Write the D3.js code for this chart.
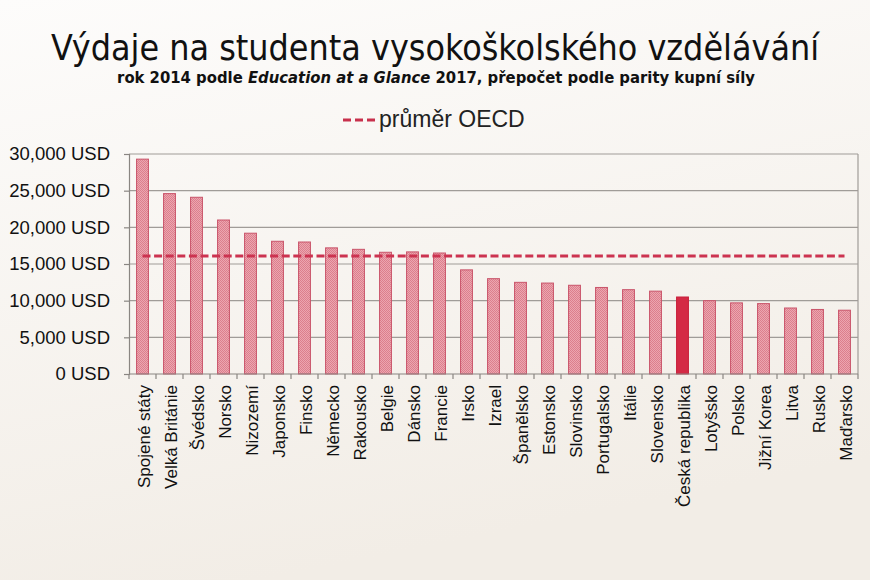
<!DOCTYPE html>
<html>
<head>
<meta charset="utf-8">
<script src="https://cdn.jsdelivr.net/npm/d3@7"></script>
<style>
  body { margin: 0; }
  svg { display: block; }
</style>
</head>
<body>
<div id="chart"></div>
<script>
// chart values
const countries = ['Spojené státy', 'Velká Británie', 'Švédsko', 'Norsko', 'Nizozemí', 'Japonsko',
  'Finsko', 'Německo', 'Rakousko', 'Belgie', 'Dánsko', 'Francie', 'Irsko', 'Izrael', 'Španělsko',
  'Estonsko', 'Slovinsko', 'Portugalsko', 'Itálie', 'Slovensko', 'Česká republika', 'Lotyšsko',
  'Polsko', 'Jižní Korea', 'Litva', 'Rusko', 'Maďarsko']
const spending = [29300, 24600, 24100, 21000, 19200, 18100, 18000, 17200, 17000, 16600, 16650, 16500,
  14200, 13000, 12500, 12400, 12100, 11800, 11500, 11300, 10500, 10000, 9700, 9600, 9000, 8800, 8700]
const oecdAverage = 16100
const highlight = 'Česká republika'
const yTicks = [0, 5000, 10000, 15000, 20000, 25000, 30000]

const width = 870,
  height = 580,
  plotLeft = 129,
  plotRight = 858,
  plotTop = 154,
  plotBottom = 374

const svg = d3.select('#chart')
  .append('svg')
  .attr('width', width)
  .attr('height', height)

const defs = svg.append('defs')

// page background
const bg = defs.append('linearGradient')
  .attr('id', 'bg')
  .attr('x1', 0).attr('y1', 0).attr('x2', 0.3).attr('y2', 1)
bg.append('stop').attr('offset', '0%').attr('stop-color', '#fdfcfb')
bg.append('stop').attr('offset', '100%').attr('stop-color', '#f2ede6')

// stippled bar fill
const pat = defs.append('pattern')
  .attr('id', 'dots')
  .attr('width', 2).attr('height', 2)
  .attr('patternUnits', 'userSpaceOnUse')
pat.append('rect').attr('width', 2).attr('height', 2).attr('fill', '#eca6b0')
pat.append('rect').attr('width', 1).attr('height', 1).attr('fill', '#dc7f8d')
pat.append('rect').attr('x', 1).attr('y', 1).attr('width', 1).attr('height', 1).attr('fill', '#dc7f8d')

svg.append('rect')
  .attr('width', width)
  .attr('height', height)
  .attr('fill', 'url(#bg)')

// titles
svg.append('text')
  .attr('x', 435)
  .attr('y', 60)
  .attr('text-anchor', 'middle')
  .style('font-family', '"DejaVu Sans Condensed", "DejaVu Sans", sans-serif')
  .style('font-size', '35.5px')
  .attr('fill', '#111')
  .text('Výdaje na studenta vysokoškolského vzdělávání')

const sub = svg.append('text')
  .attr('x', 436)
  .attr('y', 83)
  .attr('text-anchor', 'middle')
  .style('font-family', '"DejaVu Sans Condensed", "DejaVu Sans", sans-serif')
  .style('font-size', '16.5px')
  .style('font-weight', 'bold')
  .attr('fill', '#111')
sub.append('tspan').text('rok 2014 podle ')
sub.append('tspan').style('font-style', 'italic').text('Education at a Glance')
sub.append('tspan').text(' 2017, přepočet podle parity kupní síly')

// legend
svg.append('line')
  .attr('x1', 343).attr('x2', 376)
  .attr('y1', 120).attr('y2', 120)
  .attr('stroke', '#c8304c')
  .attr('stroke-width', 3)
  .attr('stroke-dasharray', '8,4')
svg.append('text')
  .attr('x', 379)
  .attr('y', 127)
  .style('font-family', '"Liberation Sans", Arial, sans-serif')
  .style('font-size', '23px')
  .attr('fill', '#222')
  .text('průměr OECD')

// scales
const x = d3.scaleBand()
  .domain(countries)
  .range([plotLeft, plotRight])
  .paddingInner(0.56)
  .paddingOuter(0.28)

const y = d3.scaleLinear()
  .domain([0, 30000])
  .range([plotBottom, plotTop])

// grid lines
svg.append('g')
  .selectAll('line')
  .data(yTicks.slice(1))
  .enter()
  .append('line')
  .attr('x1', plotLeft)
  .attr('x2', plotRight)
  .attr('y1', d => y(d))
  .attr('y2', d => y(d))
  .attr('stroke', '#a09c98')
  .attr('stroke-width', 1.2)

svg.append('line')
  .attr('x1', plotRight).attr('x2', plotRight)
  .attr('y1', plotTop).attr('y2', plotBottom)
  .attr('stroke', '#a09c98')
  .attr('stroke-width', 1.2)

// bars
svg.append('g')
  .selectAll('rect')
  .data(countries)
  .enter()
  .append('rect')
  .attr('x', d => x(d))
  .attr('y', (d, i) => y(spending[i]))
  .attr('width', x.bandwidth())
  .attr('height', (d, i) => plotBottom - y(spending[i]))
  .attr('fill', d => d === highlight ? '#d42a45' : 'url(#dots)')
  .attr('stroke', d => d === highlight ? '#c8203c' : '#c9546a')
  .attr('stroke-width', 1)

// OECD average
const step = x.step()
svg.append('line')
  .attr('x1', x(countries[0]) + x.bandwidth() / 2)
  .attr('x2', x(countries[countries.length - 1]) + x.bandwidth() / 2)
  .attr('y1', y(oecdAverage))
  .attr('y2', y(oecdAverage))
  .attr('stroke', '#cc3350')
  .attr('stroke-width', 3)
  .attr('stroke-dasharray', '8,3.6')

// y axis
const yAxis = svg.append('g')
  .attr('transform', `translate(${plotLeft},0)`)
  .call(d3.axisLeft(y).tickValues(yTicks).tickSize(5).tickPadding(14)
    .tickFormat(d => d3.format(',')(d) + ' USD'))
yAxis.select('.domain').attr('stroke', '#8a8682').attr('stroke-width', 1.2)
yAxis.selectAll('.tick line').attr('stroke', '#8a8682').attr('stroke-width', 1.2)
yAxis.selectAll('text')
  .style('font-family', '"Liberation Sans", Arial, sans-serif')
  .style('font-size', '18.5px')
  .attr('fill', '#111')

// x axis, ticks between categories
const xAxis = svg.append('g')
  .attr('transform', `translate(0,${plotBottom})`)
xAxis.append('line')
  .attr('x1', plotLeft).attr('x2', plotRight)
  .attr('stroke', '#8a8682')
  .attr('stroke-width', 1.2)
xAxis.selectAll('.sep')
  .data(d3.range(countries.length + 1))
  .enter()
  .append('line')
  .attr('class', 'sep')
  .attr('x1', i => plotLeft + i * step)
  .attr('x2', i => plotLeft + i * step)
  .attr('y1', 0)
  .attr('y2', 5)
  .attr('stroke', '#8a8682')
  .attr('stroke-width', 1.2)
xAxis.selectAll('.lbl')
  .data(countries)
  .enter()
  .append('text')
  .attr('class', 'lbl')
  .attr('transform', d => `translate(${x(d) + x.bandwidth() / 2 + 7},11) rotate(-90)`)
  .attr('text-anchor', 'end')
  .style('font-family', '"Liberation Sans", Arial, sans-serif')
  .style('font-size', '17px')
  .attr('fill', '#111')
  .text(d => d)
</script>
</body>
</html>
